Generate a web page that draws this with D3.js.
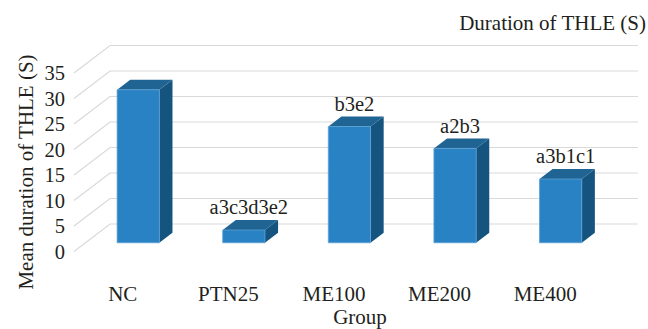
<!DOCTYPE html>
<html>
<head>
<meta charset="utf-8">
<script src="https://cdn.jsdelivr.net/npm/d3@7/dist/d3.min.js"></script>
<style>
  html, body { margin: 0; padding: 0; background: #fff; }
  svg { display: block; }
  svg text { font-family: "Liberation Serif", serif !important; }
</style>
</head>
<body>
<div id="chart"></div>
<script>
// Mean duration of tonic hindlimb extension per treatment group
const groups = ["NC", "PTN25", "ME100", "ME200", "ME400"];
const durations = [30, 2.5, 22.8, 18.5, 12.5];
const letters = ["", "a3c3d3e2", "b3e2", "a2b3", "a3b1c1"];
const yTicks = [0, 5, 10, 15, 20, 25, 30, 35];

const W = 648, H = 329;
const SERIF = "Liberation Serif";
const INK = "#231f20";
const svg = d3.select("#chart").append("svg")
  .attr("width", W).attr("height", H)
  .attr("font-family", SERIF);

const styleText = sel => sel.attr("font-family", SERIF).attr("fill", INK);

// Oblique 3D projection: depth fraction d in [0,1] shifts points up/right
const DEPTH_X = 36, DEPTH_Y = -27.5;
const proj = (x, y, d) => [x + DEPTH_X * d, y + DEPTH_Y * d];

// Scales on the front plane
const x = d3.scaleBand().domain(groups).range([74, 602]).padding(0);
const y = d3.scaleLinear().domain([0, 35]).range([251.5, 73]);

// Gridlines: diagonal on the side wall, horizontal on the back wall
const grid = svg.append("g").attr("stroke", "#d9d9d9").attr("stroke-width", 1.2).attr("fill", "none");
yTicks.forEach(v => {
  const f = [x.range()[0], y(v)];
  const b = proj(f[0], f[1], 1);
  const e = proj(x.range()[1], y(v), 1);
  grid.append("path").attr("d", d3.line()([f, b, e]));
});

// Bars as 3D boxes
const D0 = 0.318, D1 = 0.682;
const barW = x.bandwidth() * 0.40;
const colFront = "#2882c3", colTop = "#1f6493", colSide = "#15547f";

const bars = svg.append("g");
groups.forEach((g, i) => {
  const cx = x(g) + x.bandwidth() / 2;
  const x0 = cx - barW / 2, x1 = cx + barW / 2;
  const yT = y(durations[i]), yB = y(0);
  const fTL = proj(x0, yT, D0), fTR = proj(x1, yT, D0);
  const fBL = proj(x0, yB, D0), fBR = proj(x1, yB, D0);
  const bTL = proj(x0, yT, D1), bTR = proj(x1, yT, D1);
  const bBR = proj(x1, yB, D1);
  const line = d3.line();
  // right side face
  bars.append("path").attr("d", line([fTR, bTR, bBR, fBR]) + "Z").attr("fill", colSide);
  // top face
  bars.append("path").attr("d", line([fTL, bTL, bTR, fTR]) + "Z").attr("fill", colTop);
  // front face
  bars.append("path").attr("d", line([fTL, fTR, fBR, fBL]) + "Z")
    .attr("fill", colFront).attr("stroke", "#5d9fd3").attr("stroke-width", 0.8);
  // significance letters above the bar
  if (letters[i]) {
    svg.append("text")
      .attr("x", fTL[0] + barW / 2 + 5)
      .attr("y", bTL[1] - 5.5)
      .attr("text-anchor", "middle")
      .attr("font-size", 20.5)
      .text(letters[i])
      .call(styleText);
  }
});

// Value axis labels on the front plane
const yAxis = d3.axisLeft(y).tickValues(yTicks).tickSize(0).tickPadding(0);
const ya = svg.append("g").attr("transform", "translate(65,0)").call(yAxis)
  .attr("font-family", SERIF).attr("font-size", 20.5);
ya.select(".domain").remove();
ya.selectAll("text").call(styleText);

// Category labels
const xAxis = d3.axisBottom(x).tickSize(0).tickPadding(0);
const xa = svg.append("g").attr("transform", "translate(-4,286)").call(xAxis)
  .attr("font-family", SERIF).attr("font-size", 21);
xa.select(".domain").remove();
xa.selectAll("text").attr("dy", "0.71em").call(styleText);

// Titles
svg.append("text").attr("x", 646).attr("y", 30).attr("text-anchor", "end")
  .attr("font-size", 21).text("Duration of THLE (S)").call(styleText);
svg.append("text").attr("x", 360).attr("y", 324).attr("text-anchor", "middle")
  .attr("font-size", 21).text("Group").call(styleText);
svg.append("text").attr("transform", "translate(33,172) rotate(-90)")
  .attr("text-anchor", "middle").attr("font-size", 21)
  .text("Mean duration of THLE (S)").call(styleText);
</script>
</body>
</html>
